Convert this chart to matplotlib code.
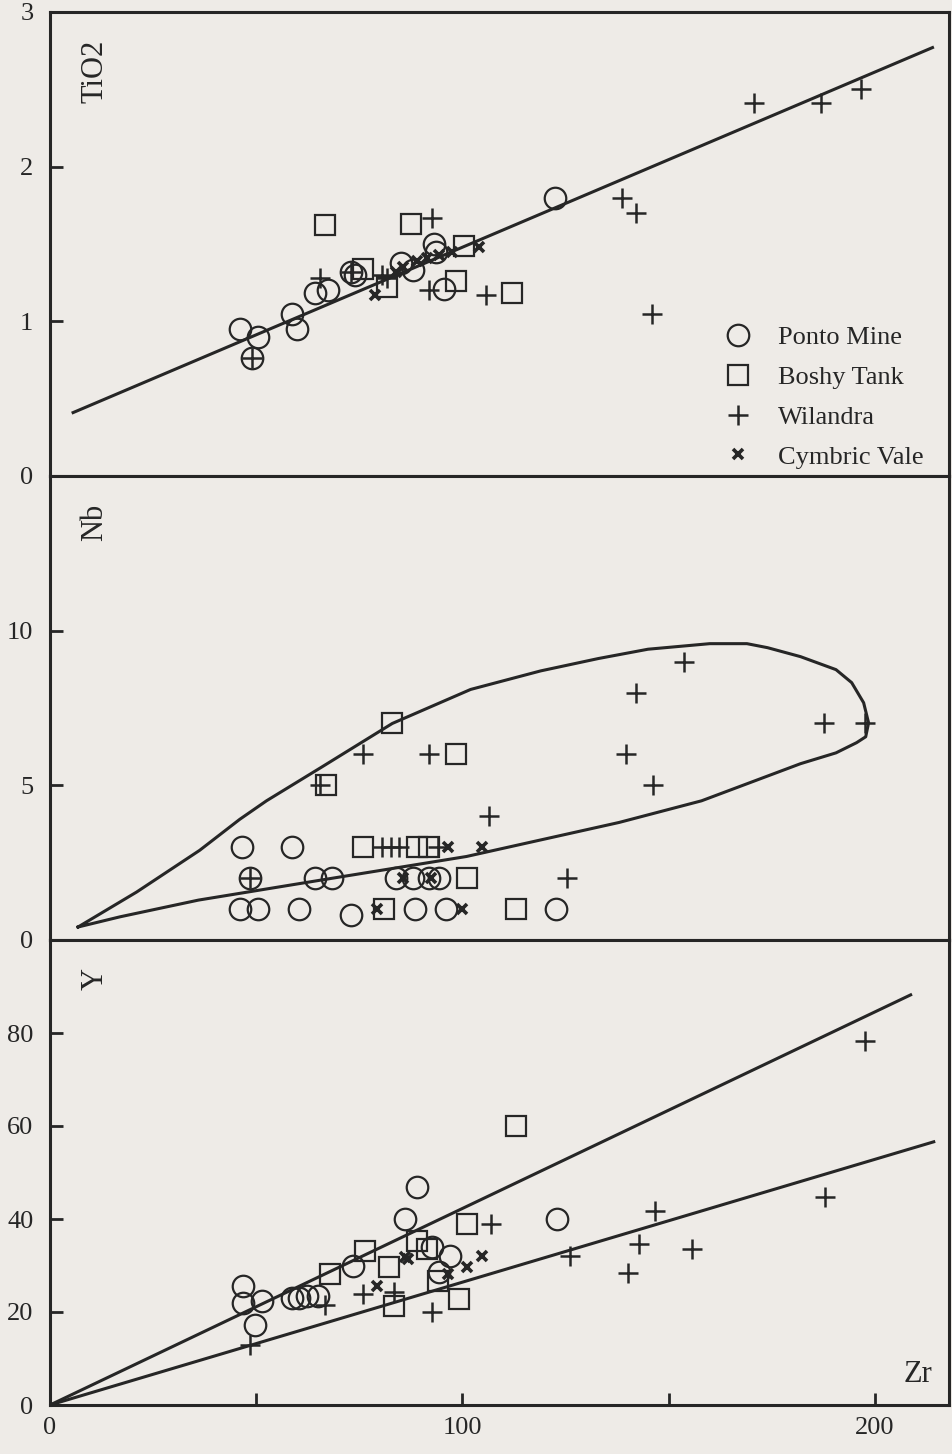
import numpy as np
import matplotlib
matplotlib.use("Agg")
import matplotlib.pyplot as plt

plt.rcParams['font.family'] = ['Liberation Serif', 'DejaVu Serif']

# ---- data (Zr vs TiO2 / Nb / Y) ----
# TiO2 panel
ponto_zr_ti = [46, 50.4, 49, 58.8, 60, 64.2, 67.3, 73, 74, 85.2, 88, 93.2, 93.5, 95.6, 122.5]
ponto_ti = [0.95, 0.90, 0.76, 1.05, 0.95, 1.18, 1.20, 1.32, 1.30, 1.38, 1.33, 1.50, 1.45, 1.21, 1.80]
boshy_zr_ti = [66.8, 87.6, 75.8, 81.8, 98.5, 100.5, 112]
boshy_ti = [1.62, 1.63, 1.34, 1.22, 1.26, 1.49, 1.18]
wil_zr_ti = [49, 65.4, 73, 80.4, 81.6, 92.7, 92, 105.8, 138.7, 142, 146, 170.7, 187, 196.6]
wil_ti = [0.76, 1.28, 1.32, 1.30, 1.28, 1.67, 1.20, 1.17, 1.80, 1.70, 1.05, 2.41, 2.41, 2.50]
cym_zr_ti = [78.7, 84, 85.5, 88.9, 91.3, 94.4, 97.6, 104]
cym_ti = [1.17, 1.32, 1.35, 1.39, 1.41, 1.43, 1.45, 1.48]
ti_line_zr = [5.6, 214]
ti_line = [0.41, 2.77]

# Nb panel
ponto_zr_nb = [46.5, 58.6, 48.4, 64.2, 68.3, 46, 50.4, 60.5, 73.1, 88.4, 96, 122.8, 84, 88, 92, 94.4]
ponto_nb = [3, 3, 2, 2, 2, 1, 1, 1, 0.8, 1, 1, 1, 2, 2, 2, 2]
boshy_zr_nb = [83, 98.5, 67, 75.8, 88.9, 92, 101, 81.1, 113]
boshy_nb = [7, 6, 5, 3, 3, 3, 2, 1, 1]
wil_zr_nb = [65.4, 75.8, 92, 153.8, 142, 139.7, 146.2, 187.6, 197.6, 106.5, 125.4, 48.4,
             80.4, 82.8, 84.7, 94]
wil_nb = [5, 6, 6, 9, 8, 6, 5, 7, 7, 4, 2, 2, 3, 3, 3, 3]
cym_zr_nb = [79.2, 100, 96.4, 104.8, 85.5, 92.5]
cym_nb = [1, 1, 3, 3, 2, 2]
nb_env_zr = [6.8, 21, 36.3, 46, 52.5, 66, 83, 102, 119, 133, 145, 160, 169, 174, 182, 190.6,
             194.4, 197.3, 198.5, 197.8, 195.6, 190.6, 182, 158, 138, 101, 68.6, 36, 17, 6.8]
nb_env = [0.42, 1.55, 2.9, 3.9, 4.5, 5.6, 7.0, 8.1, 8.7, 9.1, 9.4, 9.58, 9.58, 9.45, 9.16, 8.74,
          8.32, 7.67, 7.02, 6.57, 6.38, 6.05, 5.7, 4.5, 3.8, 2.7, 2.0, 1.29, 0.75, 0.42]

# Y panel
ponto_zr_y = [46.7, 46.7, 51.3, 49.6, 58.6, 60.5, 62.2, 65, 73.4, 86, 88.9, 92.7, 96.9, 94.4, 123]
ponto_y = [25.5, 22, 22.3, 17.3, 23.1, 23.1, 23.4, 23.4, 29.8, 40, 46.9, 33.9, 32, 28.5, 40]
boshy_zr_y = [67.8, 76.3, 82.3, 83.5, 89.1, 91.3, 94, 99.3, 101, 113]
boshy_y = [28.1, 33.1, 29.6, 21.2, 35.2, 33.5, 26.6, 22.7, 38.9, 60]
wil_zr_y = [48.4, 66.6, 75.8, 83.5, 92.7, 107, 126, 140.2, 142.9, 146.7, 155.7, 188, 197.6]
wil_y = [13, 21.6, 23.8, 24.2, 19.9, 38.9, 32, 28.3, 34.6, 41.7, 33.5, 44.8, 78.3]
cym_zr_y = [79.4, 86, 86.7, 96.4, 101, 104.8]
cym_y = [25.5, 31.8, 31.4, 28.1, 29.6, 32]
y_upper_zr = [0, 208.7]
y_upper = [0, 88.2]
y_lower_zr = [0, 214.3]
y_lower = [0, 56.6]

groups = ["Ponto Mine", "Boshy Tank", "Wilandra", "Cymbric Vale"]

# ---- styling ----
bg = '#eeebe7'
ink = '#262626'
styles = {
    "Ponto Mine": dict(marker='o', ms=15.5, mew=1.6, mfc='none'),
    "Boshy Tank": dict(marker='s', ms=15, mew=1.6, mfc='none'),
    "Wilandra": dict(marker='+', ms=14, mew=1.8),
    "Cymbric Vale": dict(marker='x', ms=7, mew=2.6),
}

W, H = 952, 1454
fig = plt.figure(figsize=(W / 100, H / 100), dpi=100, facecolor=bg)

left = 50 / W
width = (949 - 50) / W
edges = [12, 476, 940, 1405]


def make_axes(top_px, bot_px):
    ax = fig.add_axes([left, 1 - bot_px / H, width, (bot_px - top_px) / H])
    ax.set_facecolor(bg)
    for s in ax.spines.values():
        s.set_linewidth(2.2)
        s.set_color(ink)
    ax.tick_params(direction='in', length=9, width=2, color=ink, labelsize=19,
                   labelcolor=ink, pad=12, top=False, right=False)
    ax.set_xlim(0, 218)
    return ax


def draw(ax, data):
    for name, (xs, ys) in zip(groups, data):
        ax.plot(xs, ys, ls='none', color=ink, mec=ink, label=name,
                clip_on=False, **styles[name])


ax1 = make_axes(edges[0], edges[1])
ax2 = make_axes(edges[1], edges[2])
ax3 = make_axes(edges[2], edges[3])

# TiO2
ax1.plot(ti_line_zr, ti_line, color=ink, lw=2.2)
draw(ax1, [(ponto_zr_ti, ponto_ti), (boshy_zr_ti, boshy_ti),
           (wil_zr_ti, wil_ti), (cym_zr_ti, cym_ti)])
ax1.set_ylim(0, 3)
ax1.set_yticks([0, 1, 2, 3])
ax1.set_xticks([])
ax1.text(0.05, 0.94, 'TiO2', rotation=90, transform=ax1.transAxes,
         fontsize=22, color=ink, ha='center', va='top')
leg = ax1.legend(loc='lower left', bbox_to_anchor=(0.748, 0.016), frameon=False,
                 fontsize=19, handlelength=1.2, handletextpad=0.9,
                 labelspacing=0.62, borderpad=0, borderaxespad=0)
for t in leg.get_texts():
    t.set_color(ink)

# Nb
ax2.plot(nb_env_zr, nb_env, color=ink, lw=2.2)
draw(ax2, [(ponto_zr_nb, ponto_nb), (boshy_zr_nb, boshy_nb),
           (wil_zr_nb, wil_nb), (cym_zr_nb, cym_nb)])
ax2.set_ylim(0, 15)
ax2.set_yticks([0, 5, 10])
ax2.set_xticks([])
ax2.text(0.05, 0.94, 'Nb', rotation=90, transform=ax2.transAxes,
         fontsize=22, color=ink, ha='center', va='top')

# Y
ax3.plot(y_upper_zr, y_upper, color=ink, lw=2.2)
ax3.plot(y_lower_zr, y_lower, color=ink, lw=2.2)
draw(ax3, [(ponto_zr_y, ponto_y), (boshy_zr_y, boshy_y),
           (wil_zr_y, wil_y), (cym_zr_y, cym_y)])
ax3.set_ylim(0, 100)
ax3.set_yticks([0, 20, 40, 60, 80])
ax3.set_xticks([0, 50, 100, 150, 200])
ax3.set_xticklabels(['0', '', '100', '', '200'])
ax3.tick_params(axis='x', pad=9)
ax3.text(0.05, 0.94, 'Y', rotation=90, transform=ax3.transAxes,
         fontsize=22, color=ink, ha='center', va='top')
ax3.text(0.965, 0.035, 'Zr', transform=ax3.transAxes,
         fontsize=22, color=ink, ha='center', va='bottom')

fig.savefig('out.png', dpi=100, facecolor=bg)
